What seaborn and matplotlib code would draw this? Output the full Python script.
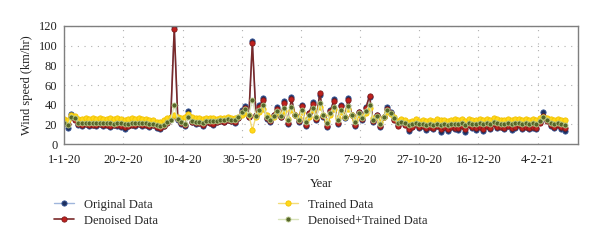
import numpy as np
import pandas as pd
import matplotlib
matplotlib.use("Agg")
import matplotlib.pyplot as plt
import seaborn as sns

# ---- data (one value every 3 days starting 1-1-20) ----
step_days = 3
original = [21,16,31,25,19,18,20,18,19,18,
            20,18,19,17,19,18,17,15,18,19,
            18,20,18,19,17,19,16,15,18,22,
            27,120,24,20,18,34,22,20,21,18,
            22,21,19,22,23,22,24,23,21,26,
            35,39,28,105,30,40,47,25,22,30,
            38,27,44,20,48,30,22,40,18,32,
            43,24,50,28,17,35,46,20,40,26,
            47,30,18,33,24,38,48,22,30,17,
            28,38,33,25,19,24,20,13,17,21,
            16,18,14,17,15,18,12,16,13,17,
            15,14,18,12,21,16,14,17,13,18,
            15,21,16,17,15,18,14,16,20,15,
            17,15,16,15,22,33,24,18,16,19,
            15,13]
denoised = [21,20,28,24,20,19,20,19,19,19,20,19,19,18,19,19,18,17,18,19,
            19,20,19,19,18,19,17,16,18,21,26,
            117,
            25,21,19,30,22,21,21,19,22,21,20,22,23,22,24,23,22,26,33,37,28,
            103,
            30,38,45,26,23,30,36,28,42,21,
            46,30,23,39,19,32,41,25,52,29,
            18,34,44,21,39,27,45,30,19,33,
            25,37,49,23,30,18,27,36,32,24,
            18,23,19,15,17,20,17,18,16,17,
            16,18,15,17,15,17,16,16,18,15,
            19,17,16,17,15,18,16,20,17,17,
            16,18,16,17,19,16,17,16,17,16,
            21,29,23,19,17,19,17,16]
trained = [25,24,30,29,25,25,26,25,26,25,26,25,25,26,25,26,25,24,25,26,
           25,26,25,25,24,24,22,22,24,26,27,
           30,
           27,26,28,31,28,26,26,25,26,26,26,25,26,26,27,26,26,27,30,32,30,
           14,
           28,33,36,30,26,28,33,30,34,25,
           35,30,26,33,24,28,35,28,38,30,
           23,30,36,26,33,28,36,30,24,30,
           27,32,37,26,28,22,28,33,31,27,
           23,25,24,22,23,25,23,24,23,24,
           23,25,24,24,23,24,25,24,25,23,
           25,24,24,25,24,25,24,26,25,24,
           24,25,24,25,25,24,25,24,25,24,
           26,28,26,25,24,25,24,24]
den_trained = [21,19,27,26,21,21,21,21,21,21,21,21,21,21,20,21,21,20,20,21,
               21,21,21,21,20,20,19,18,19,22,24,
               40,
               25,22,20,28,23,22,22,21,23,23,23,23,24,24,25,24,24,27,33,36,30,
               45,
               29,35,40,28,24,29,34,29,37,24,
               38,30,24,35,22,30,37,27,42,30,
               21,32,38,24,35,28,39,30,22,32,
               26,34,40,24,29,20,28,35,32,26,
               21,22,21,19,20,21,20,20,19,20,
               19,20,19,20,19,20,20,20,21,19,
               21,20,20,21,20,21,20,22,21,20,
               20,21,20,21,21,20,21,20,21,20,
               23,28,24,21,20,21,20,19]

tick_days = [0, 50, 100, 150, 200, 250, 300, 350, 400]
tick_labels = ["1-1-20", "20-2-20", "10-4-20", "30-5-20", "19-7-20",
               "7-9-20", "27-10-20", "16-12-20", "4-2-21"]
y_ticks = [0, 20, 40, 60, 80, 100, 120]

series_names = ["Original Data", "Denoised Data", "Trained Data", "Denoised+Trained Data"]
series_values = [original, denoised, trained, den_trained]

# ---- figure ----
sns.set_style("white")
plt.rcParams['font.family'] = ['Liberation Serif', 'DejaVu Serif']

fig = plt.figure(figsize=(6.0, 2.45), dpi=100)
ax = fig.add_axes([0.107, 0.412, 0.856, 0.482])

styles = {
    "Original Data":        dict(color="#9fb6dc", mfc="#1c2f5e", mec="#3b5a9a", ms=3.8, lw=1.0),
    "Denoised Data":        dict(color="#7a2a2a", mfc="#c0201e", mec="#7a1a1a", ms=3.8, lw=1.2),
    "Trained Data":         dict(color="#f3dc7a", mfc="#ffd81a", mec="#f2c200", ms=3.8, lw=1.0),
    "Denoised+Trained Data": dict(color="#d9e4bb", mfc="#56652a", mec="#b9c98a", ms=3.6, lw=1.0),
}

for name, vals in zip(series_names, series_values):
    df = pd.DataFrame({"day": np.arange(len(vals)) * step_days, "value": vals})
    st = styles[name]
    sns.lineplot(data=df, x="day", y="value", ax=ax, color=st["color"], lw=st["lw"],
                 marker="o", markersize=st["ms"], markerfacecolor=st["mfc"],
                 markeredgecolor=st["mec"], markeredgewidth=0.6, label=name, legend=False)

ax.set_xlim(0, 434)
ax.set_ylim(0, 120)
ax.set_xticks(tick_days)
ax.set_xticklabels(tick_labels)
ax.set_yticks(y_ticks)
ax.tick_params(axis="both", length=0, labelsize=9, colors="#222222")
ax.tick_params(axis="x", pad=7)
ax.tick_params(axis="y", pad=5)
ax.set_xlabel("Year", fontsize=9, labelpad=9, color="#222222")
ax.set_ylabel("Wind speed (km/hr)", fontsize=9, labelpad=4, color="#222222")
ax.grid(True, color="#b0b0b0", linestyle=(0, (1, 5)), linewidth=0.8)
for sp in ax.spines.values():
    sp.set_visible(True)
    sp.set_color("#7f7f7f")
    sp.set_linewidth(1.0)

handles, labels = ax.get_legend_handles_labels()
fig.legend(handles, labels, loc="upper left", bbox_to_anchor=(0.072, 0.235),
           ncol=2, frameon=False, fontsize=9, handlelength=1.6, columnspacing=9.6,
           labelspacing=0.32, handletextpad=0.8)

fig.savefig("out.png", dpi=100)
